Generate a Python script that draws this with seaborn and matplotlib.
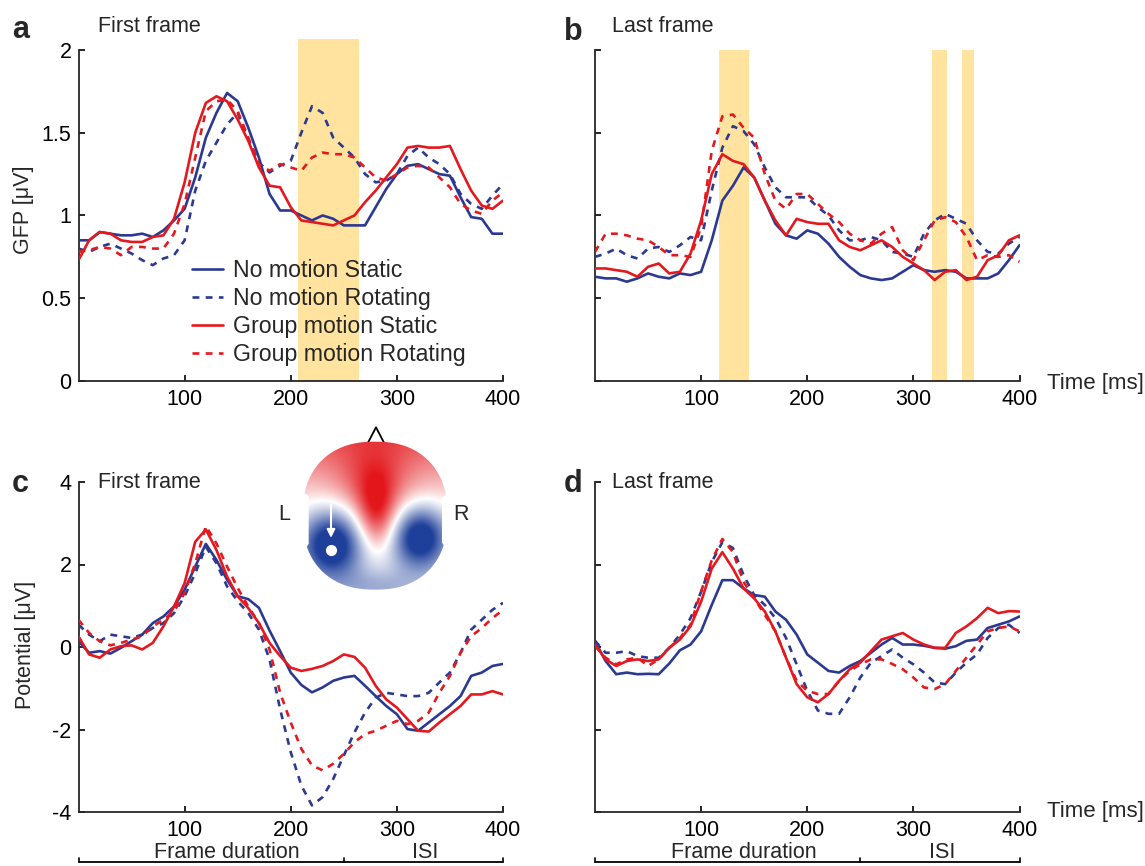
import numpy as np
import pandas as pd
import matplotlib
matplotlib.use("Agg")
import matplotlib.pyplot as plt
import matplotlib.transforms as mtransforms
from matplotlib.path import Path
from matplotlib.patches import PathPatch
from matplotlib.colors import LinearSegmentedColormap
import seaborn as sns

# --- dane (co 10 ms) ---
time_ms = list(range(0, 401, 10))
conditions = ["No motion Static", "No motion Rotating",
              "Group motion Static", "Group motion Rotating"]

# a: GFP, pierwsza klatka
a_nm_static = [0.85, 0.85, 0.90, 0.89, 0.88, 0.88, 0.89, 0.87, 0.91, 0.97, 1.04, 1.23, 1.47, 1.62, 1.74, 1.69, 1.53, 1.35, 1.13, 1.03, 1.03,
               1.00, 0.97, 1.00, 0.98, 0.94, 0.94, 0.94, 1.05, 1.16, 1.25, 1.30, 1.31, 1.28, 1.25, 1.24, 1.11, 0.99, 0.98, 0.89, 0.89]
a_nm_rot = [0.80, 0.78, 0.81, 0.83, 0.80, 0.77, 0.73, 0.70, 0.74, 0.76, 0.85, 1.15, 1.33, 1.44, 1.55, 1.62, 1.46, 1.32, 1.26, 1.30, 1.33,
            1.50, 1.66, 1.62, 1.47, 1.41, 1.35, 1.25, 1.20, 1.21, 1.25, 1.36, 1.41, 1.35, 1.31, 1.25, 1.13, 1.07, 1.04, 1.12, 1.19]
a_gm_static = [0.73, 0.85, 0.90, 0.89, 0.85, 0.84, 0.84, 0.87, 0.88, 0.98, 1.20, 1.50, 1.68, 1.72, 1.69, 1.58, 1.45, 1.29, 1.18, 1.17, 1.05,
               0.97, 0.96, 0.95, 0.94, 0.97, 1.00, 1.08, 1.15, 1.23, 1.31, 1.41, 1.42, 1.41, 1.41, 1.42, 1.28, 1.15, 1.06, 1.04, 1.09]
a_gm_rot = [0.78, 0.79, 0.81, 0.80, 0.76, 0.81, 0.81, 0.80, 0.80, 0.89, 1.07, 1.35, 1.63, 1.69, 1.70, 1.63, 1.47, 1.31, 1.27, 1.31, 1.29,
            1.27, 1.35, 1.38, 1.37, 1.37, 1.35, 1.29, 1.23, 1.21, 1.25, 1.29, 1.30, 1.29, 1.23, 1.17, 1.07, 1.03, 1.01, 1.09, 1.14]

# b: GFP, ostatnia klatka
b_nm_static = [0.63, 0.62, 0.62, 0.60, 0.62, 0.65, 0.63, 0.62, 0.65, 0.64, 0.66, 0.85, 1.09, 1.18, 1.29, 1.23, 1.09, 0.95, 0.88, 0.86, 0.91,
               0.89, 0.83, 0.75, 0.69, 0.64, 0.62, 0.61, 0.62, 0.66, 0.70, 0.67, 0.66, 0.67, 0.66, 0.62, 0.62, 0.62, 0.65, 0.73, 0.82]
b_nm_rot = [0.75, 0.77, 0.80, 0.76, 0.74, 0.80, 0.81, 0.78, 0.82, 0.87, 0.85, 1.15, 1.41, 1.54, 1.51, 1.43, 1.29, 1.17, 1.11, 1.11, 1.11,
            1.05, 1.00, 0.91, 0.85, 0.85, 0.87, 0.85, 0.78, 0.77, 0.75, 0.89, 0.97, 1.01, 0.98, 0.95, 0.85, 0.78, 0.77, 0.83, 0.87]
b_gm_static = [0.68, 0.68, 0.67, 0.66, 0.63, 0.69, 0.71, 0.65, 0.66, 0.77, 0.97, 1.25, 1.37, 1.33, 1.31, 1.23, 1.09, 0.97, 0.88, 0.98, 0.96,
               0.95, 0.95, 0.85, 0.81, 0.79, 0.82, 0.85, 0.81, 0.75, 0.71, 0.67, 0.61, 0.66, 0.67, 0.61, 0.63, 0.73, 0.76, 0.85, 0.88]
b_gm_rot = [0.78, 0.89, 0.89, 0.88, 0.86, 0.85, 0.81, 0.76, 0.76, 0.75, 0.93, 1.39, 1.60, 1.61, 1.53, 1.47, 1.25, 1.09, 1.04, 1.13, 1.13,
            1.07, 1.01, 0.96, 0.89, 0.85, 0.83, 0.89, 0.93, 0.79, 0.73, 0.85, 0.97, 0.99, 0.96, 0.87, 0.73, 0.76, 0.75, 0.76, 0.72]

# c: potencjal, pierwsza klatka
c_nm_static = [0.14, -0.14, -0.10, -0.16, -0.02, 0.14, 0.30, 0.58, 0.74, 0.98, 1.39, 1.95, 2.50, 2.11, 1.63, 1.23, 1.16, 0.95, 0.40, -0.10, -0.62,
               -0.92, -1.10, -0.98, -0.82, -0.74, -0.70, -0.94, -1.19, -1.43, -1.63, -1.99, -2.03, -1.83, -1.63, -1.43, -1.19, -0.70, -0.62, -0.46, -0.41]
c_nm_rot = [0.54, 0.30, 0.14, 0.30, 0.26, 0.22, 0.30, 0.46, 0.58, 0.82, 1.23, 1.79, 2.43, 2.03, 1.47, 1.11, 0.82, 0.42, -0.30, -1.51, -2.55,
            -3.36, -3.84, -3.64, -3.20, -2.63, -2.07, -1.59, -1.23, -1.11, -1.15, -1.19, -1.19, -1.11, -0.86, -0.62, -0.14, 0.42, 0.66, 0.90, 1.07]
c_gm_static = [0.26, -0.18, -0.26, -0.06, 0.02, 0.04, -0.06, 0.10, 0.50, 0.98, 1.55, 2.55, 2.85, 2.35, 1.71, 1.23, 0.94, 0.58, 0.10, -0.22, -0.50,
               -0.58, -0.53, -0.46, -0.34, -0.18, -0.24, -0.50, -0.94, -1.27, -1.47, -1.75, -2.03, -2.05, -1.83, -1.63, -1.43, -1.15, -1.15, -1.07, -1.15]
c_gm_rot = [0.66, 0.34, 0.14, 0.04, 0.10, 0.18, 0.26, 0.50, 0.66, 0.86, 1.31, 2.03, 2.93, 2.51, 1.95, 1.43, 0.98, 0.58, -0.06, -1.11, -1.83,
            -2.47, -2.87, -2.99, -2.83, -2.59, -2.31, -2.11, -2.03, -1.91, -1.79, -1.87, -1.79, -1.59, -1.11, -0.70, -0.14, 0.26, 0.46, 0.70, 0.90]

# d: potencjal, ostatnia klatka
d_nm_static = [0.14, -0.34, -0.66, -0.62, -0.66, -0.65, -0.66, -0.40, -0.08, 0.06, 0.38, 1.02, 1.62, 1.62, 1.42, 1.26, 1.22, 0.86, 0.66, 0.30, -0.18,
               -0.38, -0.58, -0.62, -0.46, -0.34, -0.14, 0.06, 0.22, 0.06, 0.06, 0.03, -0.02, -0.04, 0.02, 0.15, 0.18, 0.46, 0.54, 0.62, 0.74]
d_nm_rot = [0.15, -0.14, -0.14, -0.10, -0.22, -0.26, -0.26, -0.02, 0.30, 0.70, 1.34, 2.06, 2.54, 2.40, 1.74, 1.26, 1.02, 0.70, 0.22, -0.42, -1.06,
            -1.54, -1.62, -1.62, -1.22, -0.74, -0.38, -0.22, -0.06, -0.26, -0.42, -0.62, -0.86, -0.90, -0.62, -0.38, -0.18, 0.22, 0.46, 0.54, 0.34]
d_gm_static = [0.06, -0.30, -0.46, -0.34, -0.30, -0.34, -0.30, -0.02, 0.18, 0.50, 1.10, 1.90, 2.30, 1.90, 1.42, 1.18, 0.86, 0.38, -0.26, -0.90, -1.22,
               -1.34, -1.14, -0.82, -0.54, -0.38, -0.10, 0.18, 0.26, 0.34, 0.18, 0.06, -0.02, -0.02, 0.34, 0.50, 0.70, 0.95, 0.82, 0.87, 0.86]
d_gm_rot = [0.02, -0.26, -0.42, -0.30, -0.26, -0.46, -0.30, -0.02, 0.22, 0.54, 1.35, 2.10, 2.62, 2.30, 1.58, 1.18, 0.78, 0.38, -0.26, -0.82, -1.06,
            -1.14, -1.14, -0.82, -0.58, -0.42, -0.30, -0.30, -0.41, -0.54, -0.74, -0.98, -1.02, -0.90, -0.58, -0.26, 0.06, 0.38, 0.46, 0.50, 0.38]

# okna istotnosci (ms)
a_sig_windows = [(207, 264)]
b_sig_windows = [(117, 145), (318, 332), (346, 357)]

# mapa topograficzna: (x, y, sx, sy, amplituda) w pikselach wycinka
topo_blobs = [(310, 190, 110, 110, 0.5),
              (320, 290, 60, 110, 0.8),
              (185, 370, 90, 100, -1.3),
              (450, 350, 80, 90, -1.3),
              (320, 500, 120, 50, -0.25)]

BLUE = "#2B3990"
RED = "#E3191F"
SHADE = "#FFE39E"
FS = 15.5

sns.set_style("ticks")
plt.rcParams['font.family'] = ['Liberation Sans', 'DejaVu Sans']
plt.rcParams['axes.linewidth'] = 1.3

W, H = 1145, 866
fig = plt.figure(figsize=(W / 100, H / 100), dpi=100)


def px_axes(left, top, right, bottom):
    return fig.add_axes([left / W, 1 - bottom / H, (right - left) / W, (bottom - top) / H])


def make_df(series):
    rows = []
    for cond, vals in zip(conditions, series):
        for t, v in zip(time_ms, vals):
            rows.append((t, v, cond))
    return pd.DataFrame(rows, columns=["time", "value", "condition"])


def draw_panel(ax, series, legend=False):
    df = make_df(series)
    sns.lineplot(data=df, x="time", y="value", hue="condition", style="condition",
                 hue_order=conditions, style_order=conditions,
                 palette=[BLUE, BLUE, RED, RED],
                 dashes=["", (2.6, 2.4), "", (2.6, 2.4)],
                 linewidth=1.9, errorbar=None, legend=legend, ax=ax, zorder=3)
    for line in ax.get_lines():
        line.set_solid_joinstyle("round")
        line.set_dash_joinstyle("round")
    ax.set_xlabel("")
    ax.set_ylabel("")
    ax.set_xlim(0, 400)
    ax.set_xticks([100, 200, 300, 400])
    ax.set_xticklabels(["100", "200", "300", "400"])
    sns.despine(ax=ax)
    ax.tick_params(direction="in", length=4, width=1.2, labelsize=FS, colors="black")
    ax.tick_params(axis="x", pad=6)
    ax.tick_params(axis="y", pad=5)


ax_a = px_axes(78.5, 39, 503, 381)
ax_b = px_axes(595, 50, 1019.5, 381)
ax_c = px_axes(78.5, 482, 503, 812)
ax_d = px_axes(595, 482, 1019.5, 812)

draw_panel(ax_a, [a_nm_static, a_nm_rot, a_gm_static, a_gm_rot], legend=True)
draw_panel(ax_b, [b_nm_static, b_nm_rot, b_gm_static, b_gm_rot])
draw_panel(ax_c, [c_nm_static, c_nm_rot, c_gm_static, c_gm_rot])
draw_panel(ax_d, [d_nm_static, d_nm_rot, d_gm_static, d_gm_rot])

gfp_ticks = [0, 0.5, 1, 1.5, 2]
pot_ticks = [-4, -2, 0, 2, 4]
ax_a.set_ylim(0, 2.066)
ax_a.spines["left"].set_bounds(0, 2)
ax_a.set_yticks(gfp_ticks)
ax_a.set_yticklabels(["0", "0.5", "1", "1.5", "2"])
ax_b.set_ylim(0, 2)
ax_b.set_yticks(gfp_ticks)
ax_b.set_yticklabels([])
for ax in (ax_c, ax_d):
    ax.set_ylim(-4, 4)
    ax.set_yticks(pot_ticks)
ax_c.set_yticklabels(["-4", "-2", "0", "2", "4"])
ax_d.set_yticklabels([])

for lo, hi in a_sig_windows:
    ax_a.axvspan(lo, hi, color=SHADE, lw=0, zorder=1)
for lo, hi in b_sig_windows:
    ax_b.axvspan(lo, hi, color=SHADE, lw=0, zorder=1)

# legenda
handles, labels = ax_a.get_legend_handles_labels()
ax_a.legend(handles, labels, loc="upper left", bbox_to_anchor=(192 / W, 1 - 259 / H),
            bbox_transform=fig.transFigure, frameon=False, fontsize=16.7,
            handlelength=1.34, handletextpad=0.43, labelspacing=0.22,
            borderpad=0, borderaxespad=0)

# napisy
for x, y, s in [(98, 27, "First frame"), (612, 27, "Last frame"),
                (98, 482, "First frame"), (612, 482, "Last frame")]:
    fig.text(x / W, 1 - y / H, s, fontsize=FS, va="center", ha="left")
for x, y, s in [(12, 30, "a"), (564, 32, "b"), (12, 484, "c"), (564, 484, "d")]:
    fig.text(x / W, 1 - y / H, s, fontsize=22, fontweight="bold", va="center", ha="left")
fig.text(24 / W, 1 - 210 / H, "GFP [μV]", rotation=90, fontsize=FS, va="center", ha="center")
fig.text(26 / W, 1 - 645 / H, "Potential [μV]", rotation=90, fontsize=FS, va="center", ha="center")
fig.text(1047 / W, 1 - 383 / H, "Time [ms]", fontsize=16, va="center", ha="left")
fig.text(1047 / W, 1 - 812 / H, "Time [ms]", fontsize=16, va="center", ha="left")

# klamra: czas trwania klatki / ISI
for ax in (ax_c, ax_d):
    trans = mtransforms.blended_transform_factory(ax.transData, ax.transAxes)
    yb = -0.1515
    ax.plot([0, 400], [yb, yb], color="black", lw=1.3, transform=trans, clip_on=False)
    for xt in (0, 250, 400):
        ax.plot([xt, xt], [yb, yb + 0.012], color="black", lw=1.2, transform=trans, clip_on=False)
    ax.text(140, -0.124, "Frame duration", transform=trans, fontsize=FS, ha="center", va="center")
    ax.text(327, -0.124, "ISI", transform=trans, fontsize=FS, ha="center", va="center")

# mapa topograficzna (wstawka)
ax_t = fig.add_axes([270 / W, 1 - 600 / H, 220 / W, 180 / H])
ax_t.set_xlim(0, 660)
ax_t.set_ylim(540, 0)
ax_t.axis("off")

gx, gy = np.meshgrid(np.linspace(0, 660, 331), np.linspace(0, 540, 271))
field = 0.75 - 1.05 * np.tanh((gy - 80) / 260.0)
for bx, by, sx, sy, amp in topo_blobs:
    field += amp * np.exp(-((gx - bx) / sx) ** 2 - ((gy - by) / sy) ** 2)

topo_cmap = LinearSegmentedColormap.from_list("topo", ["#1E3F9A", "#FFFFFF", "#E3161B"])

# obrys glowy: superelipsa z przycieciem przy uszach
th = np.linspace(0, 2 * np.pi, 160)
cth, sth = np.cos(th), np.sin(th)
hx = 315 + 218 * np.sign(cth) * np.abs(cth) ** (2 / 2.3)
hy = 287 + 222 * np.sign(sth) * np.abs(sth) ** (2 / 2.3)
ear = (hy > 228) & (hy < 372)
hx = np.where(ear, np.clip(hx, 116, 516), hx)
head_patch = PathPatch(Path(np.column_stack([hx, hy])), facecolor="none", edgecolor="none",
                       transform=ax_t.transData)
ax_t.add_patch(head_patch)
ax_t.plot([295, 318, 341], [66, 22, 66], color="black", lw=1.3, zorder=1)
im = ax_t.imshow(field, extent=(0, 660, 540, 0), cmap=topo_cmap, vmin=-1.1, vmax=1.1,
                 interpolation="bilinear", zorder=2)
im.set_clip_path(head_patch)
ax_t.annotate("", xy=(183, 362), xytext=(183, 245),
              arrowprops=dict(arrowstyle="-|>", color="white", lw=1.5, mutation_scale=12), zorder=4)
ax_t.plot(183, 390, "o", color="white", ms=7, zorder=4)
ax_t.text(42, 285, "L", fontsize=FS, ha="center", va="center")
ax_t.text(572, 285, "R", fontsize=FS, ha="center", va="center")

fig.savefig("out.png", dpi=100)
